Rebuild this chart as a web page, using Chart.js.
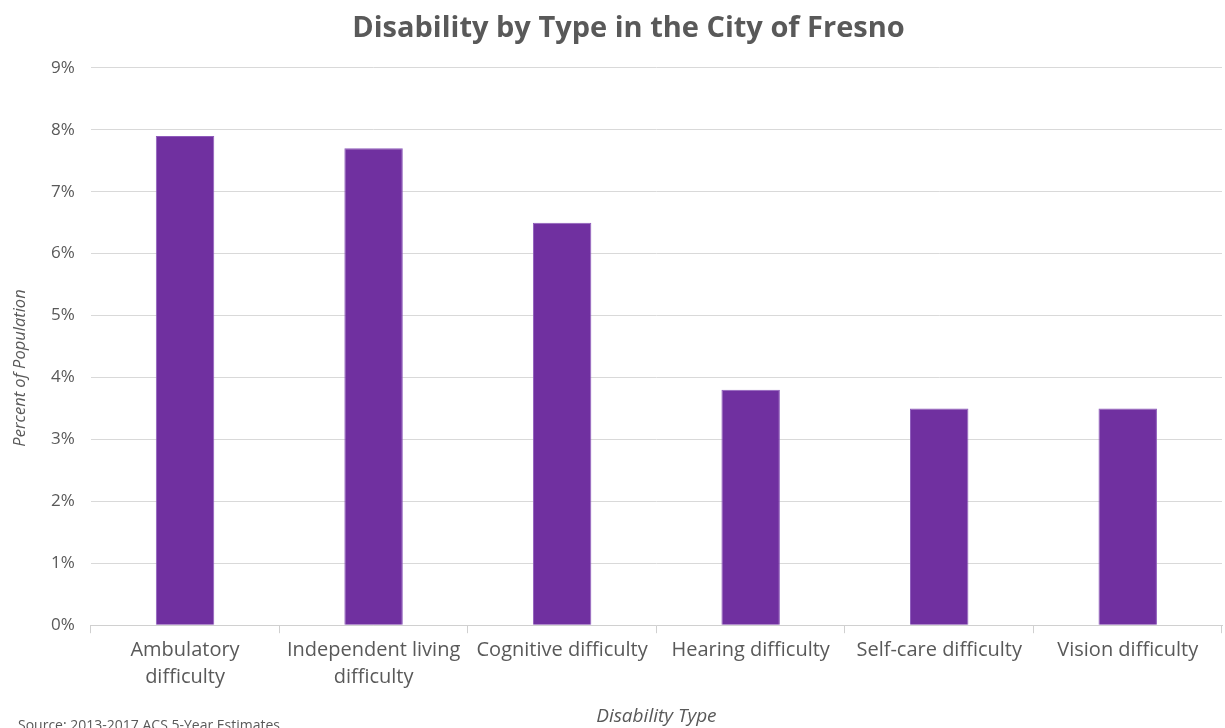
<!DOCTYPE html>
<html>
<head>
<meta charset="utf-8">
<script src="https://cdn.jsdelivr.net/npm/chart.js@4"></script>
<style>
html,body{margin:0;padding:0;background:#fff;}
#wrap{width:1225px;height:728px;position:relative;}
</style>
</head>
<body>
<div id="wrap"><canvas id="c" width="1225" height="728"></canvas></div>
<script>
const categories = [
  ['Ambulatory', 'difficulty'],
  ['Independent living', 'difficulty'],
  'Cognitive difficulty',
  'Hearing difficulty',
  'Self-care difficulty',
  'Vision difficulty'
];
const percentOfPopulation = [7.9, 7.7, 6.5, 3.8, 3.5, 3.5];
const chartTitle = 'Disability by Type in the City of Fresno';
const xTitle = 'Disability Type';
const yTitle = 'Percent of Population';
const sourceNote = 'Source: 2013-2017 ACS 5-Year Estimates';

const FONT = "'Open Sans', 'Liberation Sans', sans-serif";
const GREY = '#595959';

const notesPlugin = {
  id: 'notes',
  afterDraw(chart) {
    const ctx = chart.ctx;
    ctx.save();
    ctx.font = "14px " + FONT;
    ctx.fillStyle = GREY;
    ctx.textBaseline = 'top';
    ctx.textAlign = 'left';
    ctx.fillText(sourceNote, 18, 719);
    ctx.restore();

    ctx.save();
    ctx.translate(20, 368);
    ctx.rotate(-Math.PI / 2);
    ctx.font = "italic 16.5px " + FONT;
    ctx.fillStyle = GREY;
    ctx.textAlign = 'center';
    ctx.textBaseline = 'middle';
    ctx.fillText(yTitle, 0, 0);
    ctx.restore();
  }
};

new Chart(document.getElementById('c'), {
  type: 'bar',
  data: {
    labels: categories,
    datasets: [{
      data: percentOfPopulation,
      backgroundColor: '#7030a0',
      borderColor: '#8e5bbb',
      borderWidth: 1,
      categoryPercentage: 0.31,
      barPercentage: 1.0
    }]
  },
  options: {
    responsive: false,
    animation: false,
    layout: { padding: { left: 35, right: 3, top: 0, bottom: 0 } },
    plugins: {
      legend: { display: false },
      tooltip: { enabled: false },
      title: {
        display: true,
        text: chartTitle,
        color: GREY,
        font: { family: FONT, size: 29, weight: 'bold' },
        padding: { top: 11, bottom: 22 }
      }
    },
    scales: {
      x: {
        offset: true,
        grid: {
          offset: true,
          drawOnChartArea: false,
          drawTicks: true,
          tickLength: 8,
          color: '#d0d0d0'
        },
        border: { display: true, color: '#d0d0d0', width: 1 },
        ticks: {
          color: GREY,
          font: { family: FONT, size: 20, lineHeight: 1.35 },
          maxRotation: 0,
          autoSkip: false,
          padding: 4
        },
        title: {
          display: true,
          text: xTitle,
          color: GREY,
          font: { family: FONT, size: 19, style: 'italic' },
          padding: { top: 10, bottom: 0 }
        }
      },
      y: {
        min: 0,
        max: 9,
        ticks: {
          stepSize: 1,
          color: GREY,
          font: { family: FONT, size: 17 },
          padding: 16,
          callback: v => v + '%'
        },
        grid: { color: '#d9d9d9', drawTicks: false, lineWidth: 1 },
        border: { display: false },
        title: { display: false }
      }
    }
  },
  plugins: [notesPlugin]
});
</script>
</body>
</html>
